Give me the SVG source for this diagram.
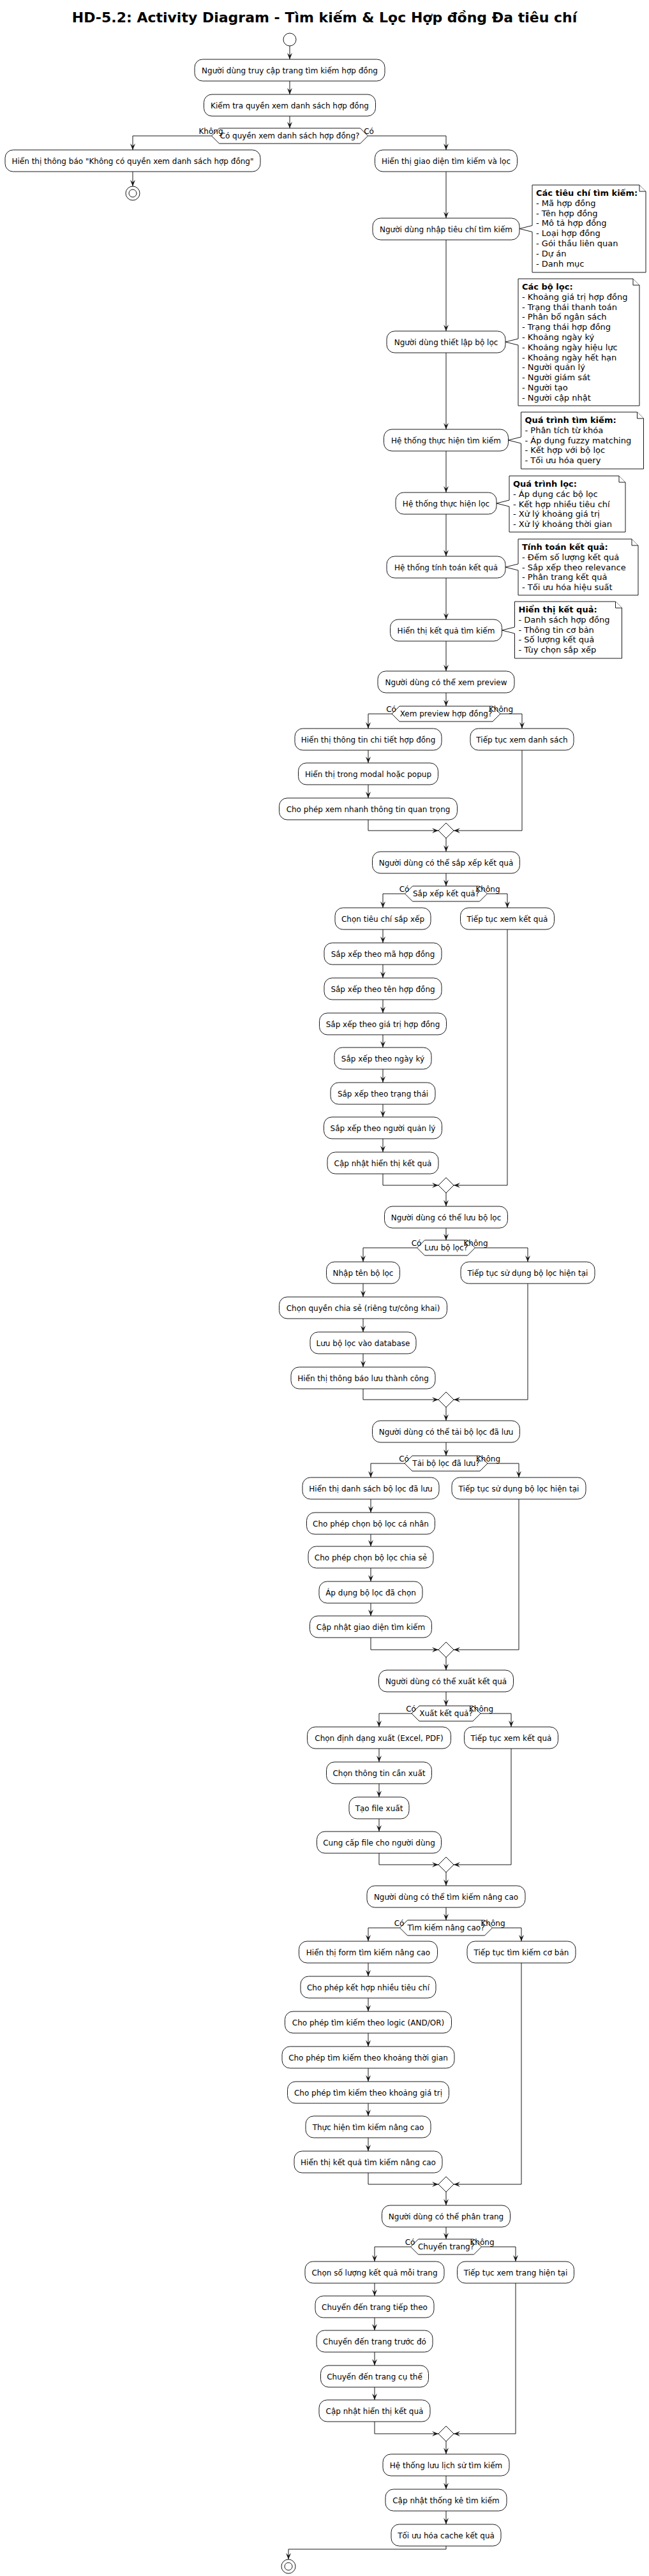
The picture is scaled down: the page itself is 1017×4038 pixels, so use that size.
<svg xmlns="http://www.w3.org/2000/svg" width="1017" height="4038" viewBox="0 0 1017 4038">
<defs>
<style>
.b rect{fill:#fff;stroke:#181818;stroke-width:1}
.b text,.d text{font-family:"DejaVu Sans",sans-serif;font-size:12px;text-anchor:middle;fill:#000}
.d polygon{fill:#fff;stroke:#181818;stroke-width:1}
.m polygon{fill:#fff;stroke:#181818;stroke-width:1}
.c path{fill:none;stroke:#181818;stroke-width:1;marker-end:url(#ah)}
.lbl{font-family:"DejaVu Sans",sans-serif;font-size:11px;fill:#000}
.n path{fill:#fff;stroke:#181818;stroke-width:1}
.n text{font-family:"DejaVu Sans",sans-serif;font-size:13px;fill:#000}
.nb{font-weight:bold}
.ci{fill:#fff;stroke:#181818;stroke-width:1}
</style>
<marker id="ah" viewBox="0 0 10 8" refX="10" refY="4" markerWidth="10" markerHeight="8" markerUnits="userSpaceOnUse" orient="auto"><path d="M0,0 L10,4 L0,8 L4,4 Z" fill="#181818" stroke="none"/></marker>
</defs>
<rect width="1017" height="4038" fill="#fff"/>
<text x="508.5" y="35" font-family="DejaVu Sans, sans-serif" font-size="22" font-weight="bold" text-anchor="middle">HD-5.2: Activity Diagram - Tìm kiếm &amp; Lọc Hợp đồng Đa tiêu chí</text>

<g id="connectors" class="c">
<path d="M454,72 V93"/>
<path d="M454,127 V148"/>
<path d="M454,182 V201"/>
<path d="M331.5,213 H208 V235"/>
<path d="M208,269 V292"/>
<path d="M576.5,213 H699 V235"/>
<path d="M699,269 V342"/>
<path d="M699,376 V519"/>
<path d="M699,553 V673"/>
<path d="M699,707 V772"/>
<path d="M699,806 V872"/>
<path d="M699,906 V971"/>
<path d="M699,1005 V1052"/>
<path d="M699,1086 V1107"/>
<path d="M614,1119 H577 V1142"/>
<path d="M784,1119 H818 V1142"/>
<path d="M577,1176 V1196"/>
<path d="M577,1230 V1251"/>
<path d="M577,1285 V1302 H687"/>
<path d="M818,1176 V1302 H711"/>
<path d="M699,1314 V1335"/>
<path d="M699,1369 V1389"/>
<path d="M634.5,1401 H600 V1423"/>
<path d="M763.5,1401 H795 V1423"/>
<path d="M600,1457 V1478"/>
<path d="M600,1512 V1533"/>
<path d="M600,1567 V1588"/>
<path d="M600,1622 V1642"/>
<path d="M600,1676 V1697"/>
<path d="M600,1731 V1751"/>
<path d="M600,1785 V1806"/>
<path d="M600,1840 V1858 H687"/>
<path d="M795,1457 V1858 H711"/>
<path d="M699,1870 V1891"/>
<path d="M699,1925 V1944"/>
<path d="M653.5,1956 H569 V1978"/>
<path d="M744.5,1956 H827 V1978"/>
<path d="M569,2012 V2033"/>
<path d="M569,2067 V2088"/>
<path d="M569,2122 V2143"/>
<path d="M569,2177 V2194 H687"/>
<path d="M827,2012 V2194 H711"/>
<path d="M699,2206 V2227"/>
<path d="M699,2261 V2282"/>
<path d="M634,2294 H581 V2316"/>
<path d="M764,2294 H813 V2316"/>
<path d="M581,2350 V2371"/>
<path d="M581,2405 V2424"/>
<path d="M581,2458 V2479"/>
<path d="M581,2513 V2533"/>
<path d="M581,2567 V2586 H687"/>
<path d="M813,2350 V2586 H711"/>
<path d="M699,2598 V2618"/>
<path d="M699,2652 V2674"/>
<path d="M645,2686 H594 V2707"/>
<path d="M753,2686 H801 V2707"/>
<path d="M594,2741 V2762"/>
<path d="M594,2796 V2817"/>
<path d="M594,2851 V2871"/>
<path d="M594,2905 V2923 H687"/>
<path d="M801,2741 V2923 H711"/>
<path d="M699,2935 V2956"/>
<path d="M699,2990 V3010"/>
<path d="M626.5,3022 H577 V3043"/>
<path d="M771.5,3022 H817 V3043"/>
<path d="M577,3077 V3098"/>
<path d="M577,3132 V3153"/>
<path d="M577,3187 V3208"/>
<path d="M577,3242 V3263"/>
<path d="M577,3297 V3317"/>
<path d="M577,3351 V3372"/>
<path d="M577,3406 V3424 H687"/>
<path d="M817,3077 V3424 H711"/>
<path d="M699,3436 V3457"/>
<path d="M699,3491 V3510"/>
<path d="M643.5,3522 H587 V3545"/>
<path d="M754.5,3522 H808 V3545"/>
<path d="M587,3579 V3599"/>
<path d="M587,3633 V3653"/>
<path d="M587,3687 V3708"/>
<path d="M587,3742 V3762"/>
<path d="M587,3796 V3815 H687"/>
<path d="M808,3579 V3815 H711"/>
<path d="M699,3827 V3847"/>
<path d="M699,3881 V3902"/>
<path d="M699,3936 V3957"/>
<path d="M699,3991 V3996 H452 V4012"/>
</g>

<g id="start"><circle class="ci" cx="454" cy="62" r="10"/></g>
<g id="stop1"><circle class="ci" cx="208" cy="303" r="11"/><circle class="ci" cx="208" cy="303" r="6"/></g>
<g id="stop2"><circle class="ci" cx="452" cy="4023" r="11"/><circle class="ci" cx="452" cy="4023" r="6"/></g>

<g id="n1" class="b"><rect x="305" y="93" width="298" height="34" rx="12.5"/><text x="454" y="114.5">Người dùng truy cập trang tìm kiếm hợp đồng</text></g>
<g id="n2" class="b"><rect x="319.5" y="148" width="269" height="34" rx="12.5"/><text x="454" y="169.5">Kiểm tra quyền xem danh sách hợp đồng</text></g>
<g id="d1" class="d"><polygon points="331.5,213 343.5,201 564.5,201 576.5,213 564.5,225 343.5,225"/><text x="454" y="217">Có quyền xem danh sách hợp đồng?</text><text class="lbl" x="330.5" y="210" text-anchor="end">Không</text><text class="lbl" x="578" y="210" text-anchor="start">Có</text></g>
<g id="n3" class="b"><rect x="8" y="235" width="400" height="34" rx="12.5"/><text x="208" y="256.5">Hiển thị thông báo "Không có quyền xem danh sách hợp đồng"</text></g>
<g id="n4" class="b"><rect x="587.5" y="235" width="223" height="34" rx="12.5"/><text x="699" y="256.5">Hiển thị giao diện tìm kiếm và lọc</text></g>
<g id="n5" class="b"><rect x="584" y="342" width="230" height="34" rx="12.5"/><text x="699" y="363.5">Người dùng nhập tiêu chí tìm kiếm</text></g>
<g id="n6" class="b"><rect x="606" y="519" width="186" height="34" rx="12.5"/><text x="699" y="540.5">Người dùng thiết lập bộ lọc</text></g>
<g id="n7" class="b"><rect x="601.5" y="673" width="195" height="34" rx="12.5"/><text x="699" y="694.5">Hệ thống thực hiện tìm kiếm</text></g>
<g id="n8" class="b"><rect x="620" y="772" width="158" height="34" rx="12.5"/><text x="699" y="793.5">Hệ thống thực hiện lọc</text></g>
<g id="n9" class="b"><rect x="606" y="872" width="186" height="34" rx="12.5"/><text x="699" y="893.5">Hệ thống tính toán kết quả</text></g>
<g id="n10" class="b"><rect x="611.5" y="971" width="175" height="34" rx="12.5"/><text x="699" y="992.5">Hiển thị kết quả tìm kiếm</text></g>
<g id="n11" class="b"><rect x="592" y="1052" width="214" height="34" rx="12.5"/><text x="699" y="1073.5">Người dùng có thể xem preview</text></g>

<g id="note1" class="n"><path d="M834,290 L1002,290 L1012,300 L1012,427 L834,427 L834,363.5 L814,358.5 L834,353.5 Z"/><path d="M1002,290 L1002,300 L1012,300"/><text x="840" y="307"><tspan class="nb">Các tiêu chí tìm kiếm:</tspan><tspan x="840" dy="15.8">- Mã hợp đồng</tspan><tspan x="840" dy="15.8">- Tên hợp đồng</tspan><tspan x="840" dy="15.8">- Mô tả hợp đồng</tspan><tspan x="840" dy="15.8">- Loại hợp đồng</tspan><tspan x="840" dy="15.8">- Gói thầu liên quan</tspan><tspan x="840" dy="15.8">- Dự án</tspan><tspan x="840" dy="15.8">- Danh mục</tspan></text></g>
<g id="note2" class="n"><path d="M812,437 L992,437 L1002,447 L1002,636 L812,636 L812,541 L792,536 L812,531 Z"/><path d="M992,437 L992,447 L1002,447"/><text x="818" y="454"><tspan class="nb">Các bộ lọc:</tspan><tspan x="818" dy="15.8">- Khoảng giá trị hợp đồng</tspan><tspan x="818" dy="15.8">- Trạng thái thanh toán</tspan><tspan x="818" dy="15.8">- Phân bổ ngân sách</tspan><tspan x="818" dy="15.8">- Trạng thái hợp đồng</tspan><tspan x="818" dy="15.8">- Khoảng ngày ký</tspan><tspan x="818" dy="15.8">- Khoảng ngày hiệu lực</tspan><tspan x="818" dy="15.8">- Khoảng ngày hết hạn</tspan><tspan x="818" dy="15.8">- Người quản lý</tspan><tspan x="818" dy="15.8">- Người giám sát</tspan><tspan x="818" dy="15.8">- Người tạo</tspan><tspan x="818" dy="15.8">- Người cập nhật</tspan></text></g>
<g id="note3" class="n"><path d="M816.5,646 L998.5,646 L1008.5,656 L1008.5,735 L816.5,735 L816.5,695 L796.5,690 L816.5,685 Z"/><path d="M998.5,646 L998.5,656 L1008.5,656"/><text x="822.5" y="663"><tspan class="nb">Quá trình tìm kiếm:</tspan><tspan x="822.5" dy="15.8">- Phân tích từ khóa</tspan><tspan x="822.5" dy="15.8">- Áp dụng fuzzy matching</tspan><tspan x="822.5" dy="15.8">- Kết hợp với bộ lọc</tspan><tspan x="822.5" dy="15.8">- Tối ưu hóa query</tspan></text></g>
<g id="note4" class="n"><path d="M798,746 L970,746 L980,756 L980,834 L798,834 L798,794 L778,789 L798,784 Z"/><path d="M970,746 L970,756 L980,756"/><text x="804" y="763"><tspan class="nb">Quá trình lọc:</tspan><tspan x="804" dy="15.8">- Áp dụng các bộ lọc</tspan><tspan x="804" dy="15.8">- Kết hợp nhiều tiêu chí</tspan><tspan x="804" dy="15.8">- Xử lý khoảng giá trị</tspan><tspan x="804" dy="15.8">- Xử lý khoảng thời gian</tspan></text></g>
<g id="note5" class="n"><path d="M812,845 L990,845 L1000,855 L1000,933 L812,933 L812,894 L792,889 L812,884 Z"/><path d="M990,845 L990,855 L1000,855"/><text x="818" y="862"><tspan class="nb">Tính toán kết quả:</tspan><tspan x="818" dy="15.8">- Đếm số lượng kết quả</tspan><tspan x="818" dy="15.8">- Sắp xếp theo relevance</tspan><tspan x="818" dy="15.8">- Phân trang kết quả</tspan><tspan x="818" dy="15.8">- Tối ưu hóa hiệu suất</tspan></text></g>
<g id="note6" class="n"><path d="M806.5,943 L964.5,943 L974.5,953 L974.5,1032 L806.5,1032 L806.5,993 L786.5,988 L806.5,983 Z"/><path d="M964.5,943 L964.5,953 L974.5,953"/><text x="812.5" y="960"><tspan class="nb">Hiển thị kết quả:</tspan><tspan x="812.5" dy="15.8">- Danh sách hợp đồng</tspan><tspan x="812.5" dy="15.8">- Thông tin cơ bản</tspan><tspan x="812.5" dy="15.8">- Số lượng kết quả</tspan><tspan x="812.5" dy="15.8">- Tùy chọn sắp xếp</tspan></text></g>

<g id="d2" class="d"><polygon points="614,1119 626,1107 772,1107 784,1119 772,1131 626,1131"/><text x="699" y="1123">Xem preview hợp đồng?</text><text class="lbl" x="613" y="1116" text-anchor="end">Có</text><text class="lbl" x="785" y="1116" text-anchor="start">Không</text></g>
<g id="p1" class="b"><rect x="462" y="1142" width="230" height="34" rx="12.5"/><text x="577" y="1163.5">Hiển thị thông tin chi tiết hợp đồng</text></g>
<g id="p2" class="b"><rect x="467.5" y="1196" width="219" height="34" rx="12.5"/><text x="577" y="1217.5">Hiển thị trong modal hoặc popup</text></g>
<g id="p3" class="b"><rect x="437.5" y="1251" width="279" height="34" rx="12.5"/><text x="577" y="1272.5">Cho phép xem nhanh thông tin quan trọng</text></g>
<g id="p4" class="b"><rect x="737" y="1142" width="162" height="34" rx="12.5"/><text x="818" y="1163.5">Tiếp tục xem danh sách</text></g>
<g id="m1" class="m"><polygon points="699,1290 711,1302 699,1314 687,1302"/></g>
<g id="n12" class="b"><rect x="583.5" y="1335" width="231" height="34" rx="12.5"/><text x="699" y="1356.5">Người dùng có thể sắp xếp kết quả</text></g>

<g id="d3" class="d"><polygon points="634.5,1401 646.5,1389 751.5,1389 763.5,1401 751.5,1413 646.5,1413"/><text x="699" y="1405">Sắp xếp kết quả?</text><text class="lbl" x="633.5" y="1398" text-anchor="end">Có</text><text class="lbl" x="764.5" y="1398" text-anchor="start">Không</text></g>
<g id="s1" class="b"><rect x="525" y="1423" width="150" height="34" rx="12.5"/><text x="600" y="1444.5">Chọn tiêu chí sắp xếp</text></g>
<g id="s2" class="b"><rect x="508" y="1478" width="184" height="34" rx="12.5"/><text x="600" y="1499.5">Sắp xếp theo mã hợp đồng</text></g>
<g id="s3" class="b"><rect x="508" y="1533" width="184" height="34" rx="12.5"/><text x="600" y="1554.5">Sắp xếp theo tên hợp đồng</text></g>
<g id="s4" class="b"><rect x="500.5" y="1588" width="199" height="34" rx="12.5"/><text x="600" y="1609.5">Sắp xếp theo giá trị hợp đồng</text></g>
<g id="s5" class="b"><rect x="524" y="1642" width="152" height="34" rx="12.5"/><text x="600" y="1663.5">Sắp xếp theo ngày ký</text></g>
<g id="s6" class="b"><rect x="518" y="1697" width="164" height="34" rx="12.5"/><text x="600" y="1718.5">Sắp xếp theo trạng thái</text></g>
<g id="s7" class="b"><rect x="507.5" y="1751" width="185" height="34" rx="12.5"/><text x="600" y="1772.5">Sắp xếp theo người quản lý</text></g>
<g id="s8" class="b"><rect x="513" y="1806" width="174" height="34" rx="12.5"/><text x="600" y="1827.5">Cập nhật hiển thị kết quả</text></g>
<g id="s9" class="b"><rect x="721.5" y="1423" width="147" height="34" rx="12.5"/><text x="795" y="1444.5">Tiếp tục xem kết quả</text></g>
<g id="m2" class="m"><polygon points="699,1846 711,1858 699,1870 687,1858"/></g>
<g id="n13" class="b"><rect x="602.5" y="1891" width="193" height="34" rx="12.5"/><text x="699" y="1912.5">Người dùng có thể lưu bộ lọc</text></g>

<g id="d4" class="d"><polygon points="653.5,1956 665.5,1944 732.5,1944 744.5,1956 732.5,1968 665.5,1968"/><text x="699" y="1960">Lưu bộ lọc?</text><text class="lbl" x="652.5" y="1953" text-anchor="end">Có</text><text class="lbl" x="745.5" y="1953" text-anchor="start">Không</text></g>
<g id="f1" class="b"><rect x="511.5" y="1978" width="115" height="34" rx="12.5"/><text x="569" y="1999.5">Nhập tên bộ lọc</text></g>
<g id="f2" class="b"><rect x="437.5" y="2033" width="263" height="34" rx="12.5"/><text x="569" y="2054.5">Chọn quyền chia sẻ (riêng tư/công khai)</text></g>
<g id="f3" class="b"><rect x="486" y="2088" width="166" height="34" rx="12.5"/><text x="569" y="2109.5">Lưu bộ lọc vào database</text></g>
<g id="f4" class="b"><rect x="456" y="2143" width="226" height="34" rx="12.5"/><text x="569" y="2164.5">Hiển thị thông báo lưu thành công</text></g>
<g id="f5" class="b"><rect x="722" y="1978" width="210" height="34" rx="12.5"/><text x="827" y="1999.5">Tiếp tục sử dụng bộ lọc hiện tại</text></g>
<g id="m3" class="m"><polygon points="699,2182 711,2194 699,2206 687,2194"/></g>
<g id="n14" class="b"><rect x="583.5" y="2227" width="231" height="34" rx="12.5"/><text x="699" y="2248.5">Người dùng có thể tải bộ lọc đã lưu</text></g>

<g id="d5" class="d"><polygon points="634,2294 646,2282 752,2282 764,2294 752,2306 646,2306"/><text x="699" y="2298">Tải bộ lọc đã lưu?</text><text class="lbl" x="633" y="2291" text-anchor="end">Có</text><text class="lbl" x="765" y="2291" text-anchor="start">Không</text></g>
<g id="l1" class="b"><rect x="474" y="2316" width="214" height="34" rx="12.5"/><text x="581" y="2337.5">Hiển thị danh sách bộ lọc đã lưu</text></g>
<g id="l2" class="b"><rect x="480.5" y="2371" width="201" height="34" rx="12.5"/><text x="581" y="2392.5">Cho phép chọn bộ lọc cá nhân</text></g>
<g id="l3" class="b"><rect x="483" y="2424" width="196" height="34" rx="12.5"/><text x="581" y="2445.5">Cho phép chọn bộ lọc chia sẻ</text></g>
<g id="l4" class="b"><rect x="500" y="2479" width="162" height="34" rx="12.5"/><text x="581" y="2500.5">Áp dụng bộ lọc đã chọn</text></g>
<g id="l5" class="b"><rect x="485.5" y="2533" width="191" height="34" rx="12.5"/><text x="581" y="2554.5">Cập nhật giao diện tìm kiếm</text></g>
<g id="l6" class="b"><rect x="708" y="2316" width="210" height="34" rx="12.5"/><text x="813" y="2337.5">Tiếp tục sử dụng bộ lọc hiện tại</text></g>
<g id="m4" class="m"><polygon points="699,2574 711,2586 699,2598 687,2586"/></g>
<g id="n15" class="b"><rect x="593.5" y="2618" width="211" height="34" rx="12.5"/><text x="699" y="2639.5">Người dùng có thể xuất kết quả</text></g>

<g id="d6" class="d"><polygon points="645,2686 657,2674 741,2674 753,2686 741,2698 657,2698"/><text x="699" y="2690">Xuất kết quả?</text><text class="lbl" x="644" y="2683" text-anchor="end">Có</text><text class="lbl" x="754" y="2683" text-anchor="start">Không</text></g>
<g id="e1" class="b"><rect x="481.5" y="2707" width="225" height="34" rx="12.5"/><text x="594" y="2728.5">Chọn định dạng xuất (Excel, PDF)</text></g>
<g id="e2" class="b"><rect x="511.5" y="2762" width="165" height="34" rx="12.5"/><text x="594" y="2783.5">Chọn thông tin cần xuất</text></g>
<g id="e3" class="b"><rect x="547" y="2817" width="94" height="34" rx="12.5"/><text x="594" y="2838.5">Tạo file xuất</text></g>
<g id="e4" class="b"><rect x="496.5" y="2871" width="195" height="34" rx="12.5"/><text x="594" y="2892.5">Cung cấp file cho người dùng</text></g>
<g id="e5" class="b"><rect x="727.5" y="2707" width="147" height="34" rx="12.5"/><text x="801" y="2728.5">Tiếp tục xem kết quả</text></g>
<g id="m5" class="m"><polygon points="699,2911 711,2923 699,2935 687,2923"/></g>
<g id="n16" class="b"><rect x="575" y="2956" width="248" height="34" rx="12.5"/><text x="699" y="2977.5">Người dùng có thể tìm kiếm nâng cao</text></g>

<g id="d7" class="d"><polygon points="626.5,3022 638.5,3010 759.5,3010 771.5,3022 759.5,3034 638.5,3034"/><text x="699" y="3026">Tìm kiếm nâng cao?</text><text class="lbl" x="625.5" y="3019" text-anchor="end">Có</text><text class="lbl" x="772.5" y="3019" text-anchor="start">Không</text></g>
<g id="a1" class="b"><rect x="468.5" y="3043" width="217" height="34" rx="12.5"/><text x="577" y="3064.5">Hiển thị form tìm kiếm nâng cao</text></g>
<g id="a2" class="b"><rect x="471" y="3098" width="212" height="34" rx="12.5"/><text x="577" y="3119.5">Cho phép kết hợp nhiều tiêu chí</text></g>
<g id="a3" class="b"><rect x="446.5" y="3153" width="261" height="34" rx="12.5"/><text x="577" y="3174.5">Cho phép tìm kiếm theo logic (AND/OR)</text></g>
<g id="a4" class="b"><rect x="442" y="3208" width="270" height="34" rx="12.5"/><text x="577" y="3229.5">Cho phép tìm kiếm theo khoảng thời gian</text></g>
<g id="a5" class="b"><rect x="450.5" y="3263" width="253" height="34" rx="12.5"/><text x="577" y="3284.5">Cho phép tìm kiếm theo khoảng giá trị</text></g>
<g id="a6" class="b"><rect x="479" y="3317" width="196" height="34" rx="12.5"/><text x="577" y="3338.5">Thực hiện tìm kiếm nâng cao</text></g>
<g id="a7" class="b"><rect x="461" y="3372" width="232" height="34" rx="12.5"/><text x="577" y="3393.5">Hiển thị kết quả tìm kiếm nâng cao</text></g>
<g id="a8" class="b"><rect x="732" y="3043" width="170" height="34" rx="12.5"/><text x="817" y="3064.5">Tiếp tục tìm kiếm cơ bản</text></g>
<g id="m6" class="m"><polygon points="699,3412 711,3424 699,3436 687,3424"/></g>
<g id="n17" class="b"><rect x="598.5" y="3457" width="201" height="34" rx="12.5"/><text x="699" y="3478.5">Người dùng có thể phân trang</text></g>

<g id="d8" class="d"><polygon points="643.5,3522 655.5,3510 742.5,3510 754.5,3522 742.5,3534 655.5,3534"/><text x="699" y="3526">Chuyển trang?</text><text class="lbl" x="642.5" y="3519" text-anchor="end">Có</text><text class="lbl" x="755.5" y="3519" text-anchor="start">Không</text></g>
<g id="g1" class="b"><rect x="478" y="3545" width="218" height="34" rx="12.5"/><text x="587" y="3566.5">Chọn số lượng kết quả mỗi trang</text></g>
<g id="g2" class="b"><rect x="494" y="3599" width="186" height="34" rx="12.5"/><text x="587" y="3620.5">Chuyển đến trang tiếp theo</text></g>
<g id="g3" class="b"><rect x="496" y="3653" width="182" height="34" rx="12.5"/><text x="587" y="3674.5">Chuyển đến trang trước đó</text></g>
<g id="g4" class="b"><rect x="502.5" y="3708" width="169" height="34" rx="12.5"/><text x="587" y="3729.5">Chuyển đến trang cụ thể</text></g>
<g id="g5" class="b"><rect x="500" y="3762" width="174" height="34" rx="12.5"/><text x="587" y="3783.5">Cập nhật hiển thị kết quả</text></g>
<g id="g6" class="b"><rect x="716.5" y="3545" width="183" height="34" rx="12.5"/><text x="808" y="3566.5">Tiếp tục xem trang hiện tại</text></g>
<g id="m7" class="m"><polygon points="699,3803 711,3815 699,3827 687,3815"/></g>
<g id="n18" class="b"><rect x="600" y="3847" width="198" height="34" rx="12.5"/><text x="699" y="3868.5">Hệ thống lưu lịch sử tìm kiếm</text></g>
<g id="n19" class="b"><rect x="604" y="3902" width="190" height="34" rx="12.5"/><text x="699" y="3923.5">Cập nhật thống kê tìm kiếm</text></g>
<g id="n20" class="b"><rect x="613" y="3957" width="172" height="34" rx="12.5"/><text x="699" y="3978.5">Tối ưu hóa cache kết quả</text></g>
</svg>
